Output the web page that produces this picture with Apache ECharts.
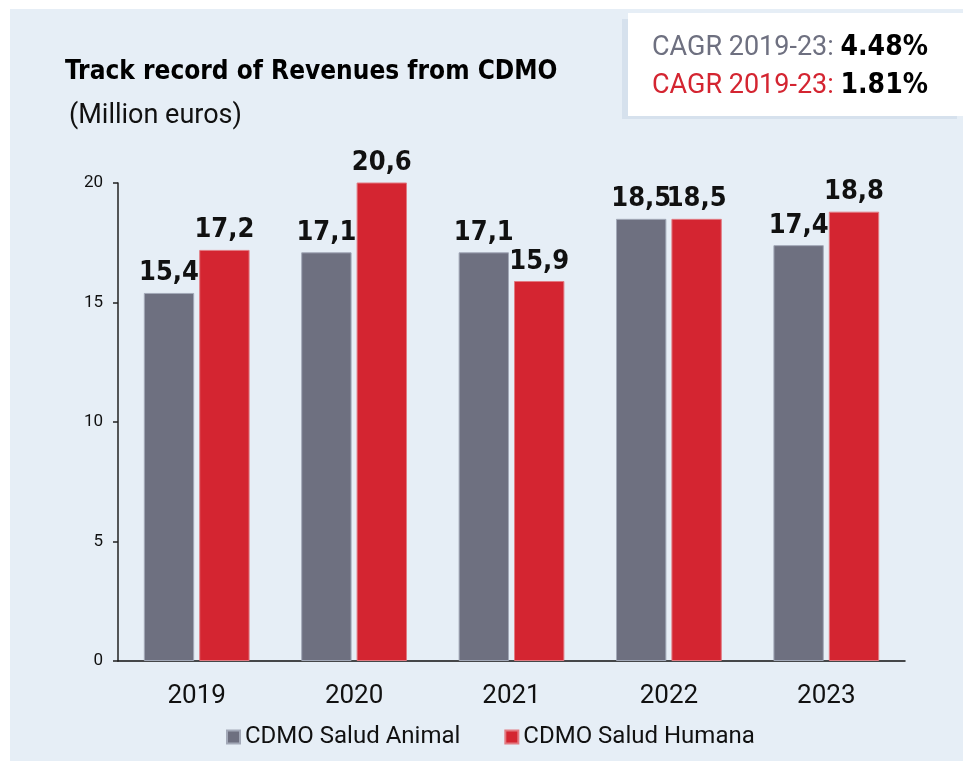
<!DOCTYPE html>
<html lang="en">
<head>
  <meta charset="UTF-8" />
  <title>Track record of Revenues from CDMO</title>
  <script src="https://cdn.jsdelivr.net/npm/echarts@6/dist/echarts.min.js"></script>
  <style>
    html, body { margin: 0; padding: 0; background: #fff; }
    #chart { width: 973px; height: 764px; }
  </style>
</head>
<body>
  <div id="chart"></div>
  <script>
    const years = ['2019', '2020', '2021', '2022', '2023'];
    const animal = [15.4, 17.1, 17.1, 18.5, 17.4];
    const humana = [17.2, 20.6, 15.9, 18.5, 18.8];
    const seriesNames = ['CDMO Salud Animal', 'CDMO Salud Humana'];
    const cagrValues = ['4.48%', '1.81%'];

    const GREY = '#6e7080';
    const RED = '#d42531';
    const PANEL = '#e6eef6';
    const boldFont = '"DejaVu Sans Condensed", "DejaVu Sans", sans-serif';

    const chart = echarts.init(document.getElementById('chart'));

    // labels use a decimal comma, as in the original
    function comma(p) {
      return p.value.toFixed(1).replace('.', ',');
    }

    const labelStyle = {
      show: true,
      position: 'top',
      distance: 6,
      formatter: comma,
      fontFamily: boldFont,
      fontWeight: 'bold',
      fontSize: 27,
      color: '#111'
    };

    chart.setOption({
      backgroundColor: '#fff',
      animation: false,
      textStyle: { fontFamily: 'Roboto, sans-serif' },
      graphic: [
        { type: 'rect', z: -10, shape: { x: 10, y: 9, width: 953, height: 752 }, style: { fill: PANEL } },
        { type: 'rect', z: 1, shape: { x: 622, y: 19, width: 335, height: 100 }, style: { fill: '#d6e1ed' } },
        { type: 'rect', z: 2, shape: { x: 628, y: 13, width: 345, height: 103 }, style: { fill: '#fff' } },
        {
          type: 'text', z: 3, left: 652, top: 34,
          style: {
            text: '{g|CAGR 2019-23: }{b|' + cagrValues[0] + '}',
            rich: {
              g: { fontFamily: 'Roboto', fontSize: 27, fill: GREY },
              b: { fontFamily: boldFont, fontWeight: 'bold', fontSize: 28, fill: '#000' }
            }
          }
        },
        {
          type: 'text', z: 3, left: 652, top: 72,
          style: {
            text: '{r|CAGR 2019-23: }{b|' + cagrValues[1] + '}',
            rich: {
              r: { fontFamily: 'Roboto', fontSize: 27, fill: RED },
              b: { fontFamily: boldFont, fontWeight: 'bold', fontSize: 28, fill: '#000' }
            }
          }
        },
        {
          type: 'text', left: 65, top: 59,
          style: { text: 'Track record of Revenues from CDMO', fontFamily: boldFont, fontWeight: 'bold', fontSize: 26, fill: '#000' }
        },
        {
          type: 'text', left: 69, top: 103,
          style: { text: '(Million euros)', fontFamily: 'Roboto', fontSize: 27, fill: '#111' }
        }
      ],
      grid: { left: 118, right: 68, top: 183, bottom: 103, containLabel: false },
      legend: {
        left: 221,
        top: 720,
        itemWidth: 13,
        itemHeight: 13,
        itemGap: 44,
        icon: 'rect',
        data: seriesNames,
        textStyle: { fontFamily: 'Roboto', fontSize: 24, color: '#111', padding: [0, 0, 0, 0] }
      },
      xAxis: {
        type: 'category',
        data: years,
        axisLine: { lineStyle: { color: '#111', width: 1.5 } },
        axisTick: { show: false },
        axisLabel: { fontFamily: 'Roboto', fontSize: 26, color: '#111', margin: 22 }
      },
      yAxis: {
        type: 'value',
        min: 0,
        max: 20,
        interval: 5,
        splitLine: { show: false },
        axisLine: { show: true, lineStyle: { color: '#222', width: 1.5 } },
        axisTick: { show: true, length: 5, lineStyle: { color: '#222', width: 1.5 } },
        axisLabel: { fontFamily: 'Roboto', fontSize: 17, color: '#111', margin: 15 }
      },
      series: [
        {
          name: seriesNames[0],
          type: 'bar',
          data: animal,
          barWidth: '32%',
          barGap: '10%',
          clip: true,
          itemStyle: { color: GREY, borderColor: '#a3a9b8', borderWidth: 1 },
          label: labelStyle
        },
        {
          name: seriesNames[1],
          type: 'bar',
          data: humana,
          barWidth: '32%',
          barGap: '10%',
          clip: true,
          itemStyle: { color: RED, borderColor: '#e27a82', borderWidth: 1 },
          label: labelStyle
        }
      ]
    });
  </script>
</body>
</html>
